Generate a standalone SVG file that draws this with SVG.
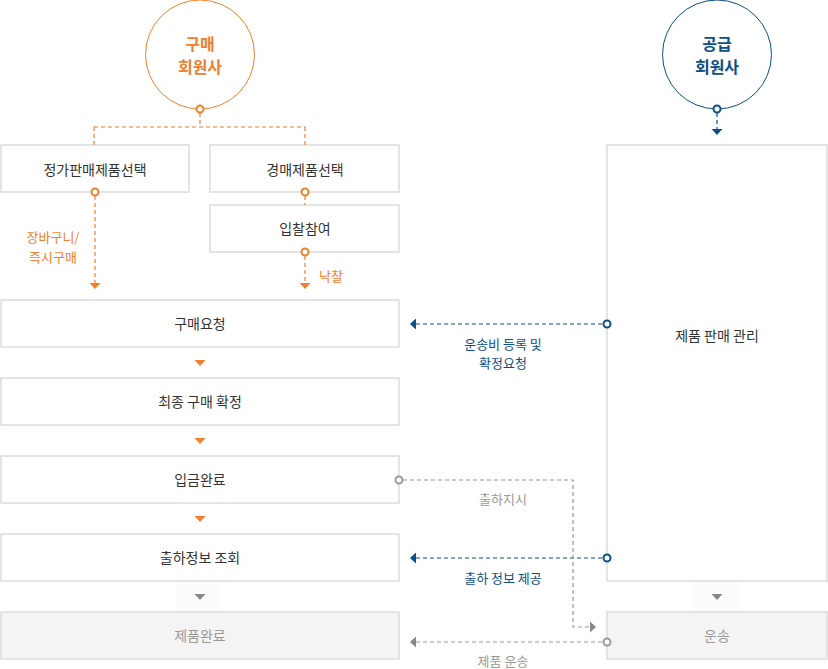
<svg xmlns="http://www.w3.org/2000/svg" width="828" height="669" viewBox="0 0 828 669">
<style>
text{font-family:"Noto Sans CJK KR","Noto Sans",sans-serif;text-anchor:middle;}
.box{fill:#fff;stroke:#dcdcdc;stroke-width:1.5;}
.gbox{fill:#f4f4f4;stroke:#dcdcdc;stroke-width:1.5;}
.t{font-size:14px;fill:#333;}
.tg{font-size:14px;fill:#999;}
.ol{stroke:#f07f2e;stroke-width:1.2;stroke-dasharray:4 3;fill:none;}
.bl{stroke:#0b4f85;stroke-width:1.2;stroke-dasharray:4 3;fill:none;}
.gl{stroke:#999;stroke-width:1.2;stroke-dasharray:4 3;fill:none;}
.oc{fill:#fff;stroke:#f07f2e;stroke-width:2;}
.bc{fill:#fff;stroke:#0b4f85;stroke-width:2;}
.gc{fill:#fff;stroke:#999;stroke-width:2;}
.lo{font-size:13px;fill:#f07f2e;}
.lb{font-size:13px;fill:#0b4f85;}
.lg{font-size:13px;fill:#999;}
</style>
<g id="buyer">
<circle cx="200" cy="54.5" r="54.5" fill="#fff" stroke="#f07f2e" stroke-width="1"/>
<text x="200" y="50" style="font-size:16px;font-weight:bold;fill:#f07f2e">구매</text>
<text x="200" y="73" style="font-size:16px;font-weight:bold;fill:#f07f2e">회원사</text>
</g>
<g id="supplier">
<circle cx="717" cy="54.5" r="54.5" fill="#fff" stroke="#0b4f85" stroke-width="1"/>
<text x="717" y="50" style="font-size:16px;font-weight:bold;fill:#0b4f85">공급</text>
<text x="717" y="73" style="font-size:16px;font-weight:bold;fill:#0b4f85">회원사</text>
</g>
<g id="bgs">
<rect x="176" y="583" width="46" height="29" fill="#fcfcfc"/>
<rect x="694" y="583" width="46" height="29" fill="#fcfcfc"/>
</g>
<g id="n-regular"><rect class="box" x="1" y="145" width="188" height="47"/><text class="t" x="95" y="175">정가판매제품선택</text></g>
<g id="n-auction"><rect class="box" x="210" y="145" width="189" height="47"/><text class="t" x="305" y="175">경매제품선택</text></g>
<g id="n-bid"><rect class="box" x="210" y="205" width="189" height="47"/><text class="t" x="305" y="234">입찰참여</text></g>
<g id="n-request"><rect class="box" x="1" y="300" width="398" height="47"/><text class="t" x="200" y="329">구매요청</text></g>
<g id="n-confirm"><rect class="box" x="1" y="378" width="398" height="47"/><text class="t" x="200" y="407">최종 구매 확정</text></g>
<g id="n-paid"><rect class="box" x="1" y="456" width="398" height="47"/><text class="t" x="200" y="485">입금완료</text></g>
<g id="n-shipinfo"><rect class="box" x="1" y="534" width="398" height="47"/><text class="t" x="200" y="563">출하정보 조회</text></g>
<g id="n-done"><rect class="gbox" x="1" y="612" width="398" height="47"/><text class="tg" x="200" y="641">제품완료</text></g>
<g id="n-manage"><rect class="box" x="607" y="145" width="220" height="436"/><text class="t" x="717" y="341">제품 판매 관리</text></g>
<g id="n-ship"><rect class="gbox" x="607" y="612" width="220" height="47"/><text class="tg" x="717" y="641">운송</text></g>
<g id="connectors">
<path class="ol" d="M200 113 V127 M94 127 H305 M94 127 V145 M305 127 V145"/>
<path class="ol" d="M95 196 V283"/>
<path class="ol" d="M305 196 V205"/>
<path class="ol" d="M305 256 V283"/>
<path class="bl" d="M717 113 V129"/>
<path class="bl" d="M416 324 H603"/>
<path class="bl" d="M416 558 H603"/>
<path class="gl" d="M403 480 H573 V627 H590"/>
<path class="gl" d="M416 642 H603"/>
<circle class="oc" cx="200" cy="109" r="3.5"/>
<circle class="oc" cx="95" cy="192" r="3.5"/>
<circle class="oc" cx="305" cy="192" r="3.5"/>
<circle class="oc" cx="305" cy="252" r="3.5"/>
<circle class="bc" cx="717" cy="109" r="3.5"/>
<circle class="bc" cx="607" cy="324" r="3.5"/>
<circle class="bc" cx="607" cy="558" r="3.5"/>
<circle class="gc" cx="399" cy="480" r="3.5"/>
<circle class="gc" cx="607" cy="642" r="3.5"/>
<g fill="#f07f2e">
<polygon points="89.5,283 100.5,283 95,289"/>
<polygon points="299.5,283 310.5,283 305,289"/>
<polygon points="194.5,360 205.5,360 200,366"/>
<polygon points="194.5,438 205.5,438 200,444"/>
<polygon points="194.5,516 205.5,516 200,522"/>
</g>
<polygon fill="#0b4f85" points="711.5,129 722.5,129 717,135"/>
<polygon fill="#0b4f85" points="410,324 416,318.5 416,329.5"/>
<polygon fill="#0b4f85" points="410,558 416,552.5 416,563.5"/>
<g fill="#888">
<polygon points="194.5,594 205.5,594 200,600"/>
<polygon points="711.5,594 722.5,594 717,600"/>
<polygon points="596,627 590,621.5 590,632.5"/>
<polygon points="410,642 416,636.5 416,647.5"/>
</g>
<text class="lo" x="53" y="242">장바구니/</text>
<text class="lo" x="53" y="262">즉시구매</text>
<text class="lo" x="331" y="281">낙찰</text>
<text class="lb" x="503" y="349">운송비 등록 및</text>
<text class="lb" x="503" y="368">확정요청</text>
<text class="lg" x="503" y="504">출하지시</text>
<text class="lb" x="503" y="583">출하 정보 제공</text>
<text class="lg" x="503" y="666">제품 운송</text>
</g>
</svg>
